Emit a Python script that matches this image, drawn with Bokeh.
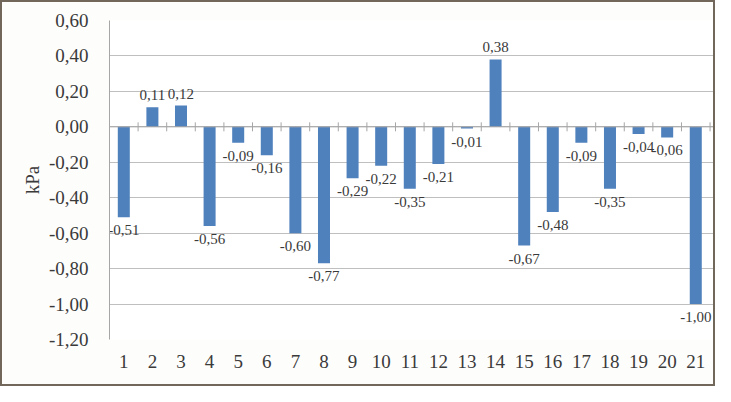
import math
from bokeh.plotting import figure
from bokeh.models import ColumnDataSource, FixedTicker, CustomJSTickFormatter, Span
from bokeh.core.properties import value
from bokeh.embed import file_html
from bokeh.resources import INLINE

categories = list(range(1, 22))
values = [-0.51, 0.11, 0.12, -0.56, -0.09, -0.16, -0.60, -0.77, -0.29, -0.22,
          -0.35, -0.21, -0.01, 0.38, -0.67, -0.48, -0.09, -0.35, -0.04, -0.06, -1.00]
y_ticks = [-1.2, -1.0, -0.8, -0.6, -0.4, -0.2, 0.0, 0.2, 0.4, 0.6]
y_label = "kPa"

FONT = value("Liberation Serif")
TXT = "#3a3a3a"
GRID = "#bfbfbf"

labels = [f"{v:.2f}".replace(".", ",") for v in values]
pos = [i for i, v in enumerate(values) if v >= 0]
neg = [i for i, v in enumerate(values) if v < 0]
src_pos = ColumnDataSource(dict(x=[categories[i] for i in pos], y=[values[i] for i in pos], t=[labels[i] for i in pos]))
src_neg = ColumnDataSource(dict(x=[categories[i] for i in neg], y=[values[i] for i in neg], t=[labels[i] for i in neg]))
src = ColumnDataSource(dict(x=categories, top=values))
bounds = [c + 0.5 for c in [0] + categories]

p = figure(width=715, height=386, output_backend="svg", toolbar_location=None,
           x_range=(0.5, 21.62), y_range=(-1.2, 0.6),
           min_border_left=107, min_border_right=4, min_border_top=18, min_border_bottom=49)
p.background_fill_color = "white"
p.border_fill_color = "#fdfdfc"
p.outline_line_color = None
p.styles = {"border": "2px solid #71685b", "box-sizing": "border-box"}

p.xgrid.grid_line_color = None
p.ygrid.grid_line_color = GRID
p.ygrid.ticker = FixedTicker(ticks=y_ticks)

p.yaxis.ticker = FixedTicker(ticks=y_ticks)
p.yaxis.formatter = CustomJSTickFormatter(code="return tick.toFixed(2).replace('.', ',');")
p.yaxis.axis_line_color = "#a6a6a6"
p.yaxis.major_tick_line_color = None
p.yaxis.minor_tick_line_color = None
p.yaxis.major_label_standoff = 15
p.yaxis.major_label_text_font = "Liberation Serif"
p.yaxis.major_label_text_font_size = "19px"
p.yaxis.major_label_text_color = TXT
p.yaxis.axis_label = y_label
p.yaxis.axis_label_text_font = "Liberation Serif"
p.yaxis.axis_label_text_font_size = "19px"
p.yaxis.axis_label_text_font_style = "normal"
p.yaxis.axis_label_text_color = TXT
p.yaxis.axis_label_standoff = 3

p.xaxis.ticker = FixedTicker(ticks=categories)
p.xaxis.axis_line_color = None
p.xaxis.major_tick_line_color = None
p.xaxis.minor_tick_line_color = None
p.xaxis.major_label_standoff = 9
p.xaxis.major_label_text_font = "Liberation Serif"
p.xaxis.major_label_text_font_size = "19px"
p.xaxis.major_label_text_color = TXT

p.add_layout(Span(location=0, dimension="width", line_color="#a6a6a6", line_width=1))
p.scatter(x=bounds, y=[0] * len(bounds), marker="dash", angle=math.pi / 2, size=9,
          line_color="#a6a6a6", line_width=1)

p.vbar(x="x", top="top", bottom=0, width=0.42, source=src, fill_color="#4f81bd", line_color=None)

p.text(x="x", y="y", text="t", source=src_pos, text_align="center", text_baseline="bottom",
       y_offset=-7, text_font=FONT, text_font_size="15px", text_color=TXT)
p.text(x="x", y="y", text="t", source=src_neg, text_align="center", text_baseline="top",
       y_offset=8, text_font=FONT, text_font_size="15px", text_color=TXT)

open("out.html", "w").write(file_html(p, INLINE))
